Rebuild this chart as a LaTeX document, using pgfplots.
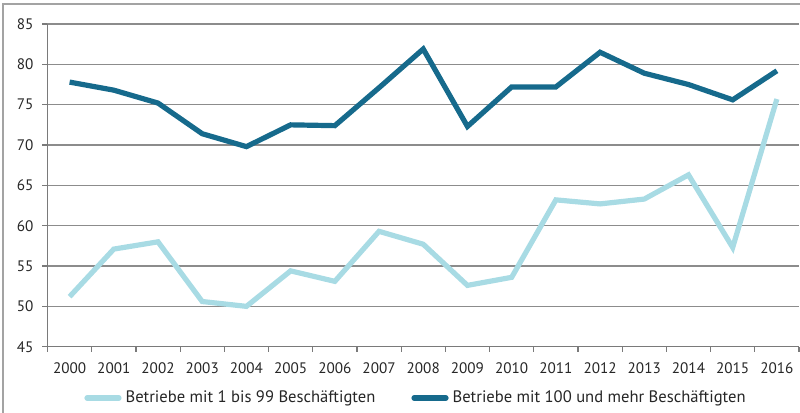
\documentclass[border=0pt]{standalone}
\usepackage{fontspec}
\setmainfont{PT Sans}
\usepackage{pgfplots}
\pgfplotsset{compat=1.18}
\definecolor{dark}{HTML}{166A8C}
\definecolor{light}{HTML}{A8DBE4}
\definecolor{gridc}{HTML}{8C8C8C}
\definecolor{axc}{HTML}{7A7A7A}
\begin{document}
\begin{tikzpicture}
\begin{axis}[
  at={(0pt,0pt)}, anchor=south west,
  scale only axis, width=375.75pt, height=161.35pt,
  xmin=-0.5, xmax=16.5, ymin=45, ymax=85,
  axis lines=left, axis line style={-, axc, line width=0.7pt},
  xtick={-0.5,0.5,...,16.5},
  x tick label as interval,
  xticklabels={2000,2001,2002,2003,2004,2005,2006,2007,2008,2009,2010,2011,2012,2013,2014,2015,2016},
  ytick={45,50,...,85},
  tick align=outside, tick pos=left,
  major tick length=2.5pt,
  tick style={axc, line width=0.6pt},
  ymajorgrids, major grid style={gridc, line width=0.6pt},
  /pgf/number format/assume math mode=true,
  tick label style={font=\fontsize{7.6}{9}\selectfont, text=black!85},
  yticklabel style={xshift=-1pt},
  xticklabel style={yshift=-2pt},
  legend columns=2,
  legend style={at={(0.4917,-0.159)}, anchor=center, draw=none, fill=none,
    font=\fontsize{8.3}{10}\selectfont, text=black!85,
    /tikz/every even column/.append style={column sep=16pt},
    /tikz/every odd column/.append style={column sep=0pt}},
  legend image code/.code={\draw[#1, line width=2.6pt, line cap=round] (0pt,0pt) -- (16pt,0pt);},
]
\addplot[light, line width=2.6pt] coordinates {
(0,51.2) (1,57.1) (2,58.0) (3,50.6) (4,50.0) (5,54.4) (6,53.1) (7,59.3) (8,57.7)
(9,52.6) (10,53.6) (11,63.2) (12,62.7) (13,63.3) (14,66.3) (15,57.3) (16,75.7)};
\addlegendentry{Betriebe mit 1 bis 99 Beschäftigten}
\addplot[dark, line width=2.6pt] coordinates {
(0,77.8) (1,76.8) (2,75.2) (3,71.4) (4,69.8) (5,72.5) (6,72.4) (7,77.1) (8,81.9)
(9,72.3) (10,77.2) (11,77.2) (12,81.5) (13,78.9) (14,77.5) (15,75.6) (16,79.2)};
\addlegendentry{Betriebe mit 100 und mehr Beschäftigten}
\end{axis}
\draw[gridc!80, line width=0.6pt] (-22.25pt,-33.15pt) -- (-22.25pt,171.35pt) -- (376.25pt,171.35pt);
\pgfresetboundingbox
\useasboundingbox (-23.75pt,-33.15pt) rectangle (376.25pt,173.35pt);
\end{tikzpicture}
\end{document}
